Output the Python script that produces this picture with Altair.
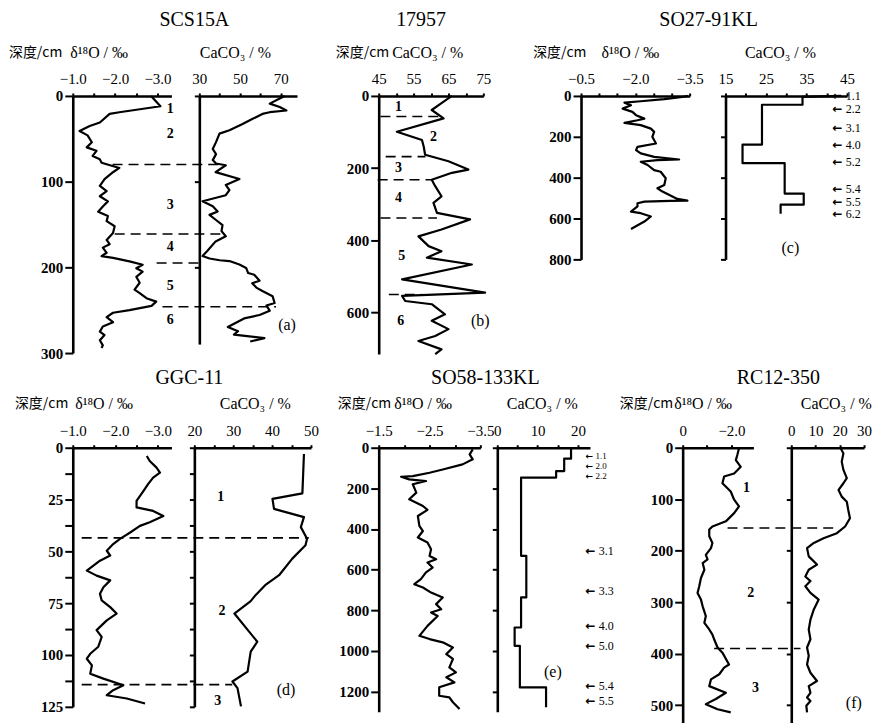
import altair as alt
import pandas as pd

SERIF = "Liberation Serif"
ARROWFONT = "DejaVu Sans"
CJK = "Noto Sans CJK SC"
M = "\u2212"
ARROW = "\u2190"

# ---------------- (a) SCS15A ----------------
a_d18o_depth = [0, 12, 19, 21, 31, 35, 41, 46, 54, 60, 64, 70, 74, 78, 84, 89, 97, 105, 111, 117, 123, 129,
                135, 140, 146, 152, 160, 168, 173, 177, 183, 187, 189, 193, 197, 201, 205, 211, 218, 226, 230,
                236, 240, 245, 250, 253, 258, 264, 269, 275, 279, 285, 291, 294]
a_d18o_value = [-2.85, -3.07, -2.1, -1.87, -1.64, -1.4, -1.16, -1.35, -1.45, -1.33, -1.56, -1.47, -1.64, -1.68,
                -2.1, -1.95, -1.75, -1.64, -1.8, -1.64, -1.83, -1.71, -1.6, -1.83, -1.8, -1.99, -1.95, -1.8,
                -1.87, -1.71, -1.8, -1.68, -1.95, -2.34, -2.65, -2.5, -2.65, -2.5, -2.58, -2.46, -2.58, -2.74,
                -2.97, -2.86, -2.34, -1.95, -1.8, -1.95, -1.71, -1.64, -1.75, -1.64, -1.71, -1.68]
a_caco3_depth = [0, 3, 9, 13, 17, 19, 21, 27, 33, 40, 44, 54, 62, 68, 75, 79, 81, 89, 97, 104, 110, 116, 123,
                 129, 135, 139, 145, 151, 158, 164, 170, 181, 187, 190, 192, 193, 197, 201, 207, 209, 216, 219,
                 224, 228, 234, 242, 245, 251, 256, 260, 265, 270, 275, 279, 283, 287]
a_caco3_value = [72, 69.5, 64.6, 69.5, 72.8, 64.6, 61, 56, 51, 44.8, 39.9, 38.2, 36.6, 38.2, 36.6, 38.2, 43, 38,
                 49.7, 43, 44.8, 43, 31.6, 36.6, 39, 35, 38.2, 41.4, 40.9, 43, 38, 34, 31.6, 35, 40, 44.8, 49.7,
                 53, 54, 57, 59.6, 56, 58, 61, 66, 67, 63, 64.6, 59.6, 52, 48, 44, 49, 47, 62, 55]
a_stage_depth = [15, 44, 127, 176, 222, 261]
a_stage_value = [-3.3, -3.3, -3.3, -3.3, -3.3, -3.3]
a_stage_label = ["1", "2", "3", "4", "5", "6"]
a_dash_depth = [80, 161, 195, 246]
a_dash_from = [-1.94, -1.99, -2.98, -3.12]
a_dash_to = [-4.46, -4.58, -4.11, -5.80]

# ---------------- (b) 17957 ----------------
b_caco3_depth = [0, 20, 39, 62, 99, 122, 140, 163, 181, 204, 213, 232, 250, 278, 296, 324, 342, 370, 389, 416,
                 430, 448, 467, 508, 545, 554, 568, 577, 605, 623, 646, 665, 679, 702, 715]
b_caco3_value = [66, 63, 60.2, 63.6, 50.2, 57.4, 57.9, 58.3, 65, 70.7, 66, 60.2, 61.2, 63, 60.7, 61.7, 71.2, 63,
                 56.4, 59.3, 63, 58.8, 71.7, 51.7, 75.5, 51.7, 52.6, 60.2, 64, 60.2, 65, 61.2, 56.4, 63, 61.2]
b_stage_depth = [30, 113, 199, 282, 444, 624]
b_stage_value = [50.7, 60.7, 50.7, 50.7, 51.6, 51.3]
b_stage_label = ["1", "2", "3", "4", "5", "6"]
b_dash_depth = [57, 168, 232, 338, 550]
b_dash_from = [45.5, 47, 44.7, 45.5, 47.9]
b_dash_to = [62.1, 58.4, 60.2, 61.7, 57.3]

# ---------------- (c) SO27-91KL ----------------
c_d18o_depth = [0, 5, 16, 26, 33, 46, 62, 78, 94, 111, 119, 132, 143, 160, 176, 200, 233, 249, 265, 281, 298,
                311, 314, 322, 338, 363, 371, 403, 436, 452, 468, 504, 512, 514, 517, 525, 541, 566, 574, 590,
                615, 651]
c_d18o_value = [-3.45, -3.3, -2.8, -2.15, -1.7, -1.88, -1.65, -1.92, -2.02, -2.25, -2.06, -1.7, -2.15, -2.43,
                -2.52, -2.47, -2.57, -2.06, -2.02, -2.15, -2.52, -3.21, -2.61, -2.15, -2.34, -2.52, -2.7, -2.84,
                -2.8, -2.61, -2.75, -3.16, -3.44, -2.97, -2.25, -2.06, -2.06, -1.88, -2.15, -2.43, -2.25, -1.88]
c_caco3_lead_depth = [0, 5]
c_caco3_lead_value = [43.5, 34]
c_caco3_step_value = [34, 24, 19.2, 29.6, 34.3, 28.6]
c_caco3_step_bounds = [5, 43, 238, 329, 478, 532, 577]
c_arrow_depth = [2, 64, 157, 238, 325, 456, 518, 580]
c_arrow_label = ["1.1", "2.2", "3.1", "4.0", "5.2", "5.4", "5.5", "6.2"]

# ---------------- (d) GGC-11 ----------------
d_d18o_depth = [4, 6.4, 9.6, 12, 14.4, 17.6, 20.9, 25.7, 28.8, 30.5, 32.9, 36, 37.7, 40.9, 44, 46.5, 49.7, 52,
                54.5, 59.3, 61.7, 64, 67.3, 70.5, 73.7, 76.9, 80, 83.3, 88, 91.3, 96, 99.4, 101.8, 105, 109,
                111.4, 114.6, 117, 119.4, 121, 123.4]
d_d18o_value = [-2.74, -2.81, -2.97, -3.05, -2.89, -2.77, -2.66, -2.5, -2.5, -2.89, -3.13, -2.81, -2.58, -2.35,
                -2.11, -1.95, -1.8, -1.88, -1.64, -1.33, -1.56, -1.88, -1.72, -1.64, -1.68, -1.88, -2.03, -1.8,
                -1.56, -1.68, -1.6, -1.41, -1.33, -1.45, -1.41, -1.72, -2.19, -1.95, -1.8, -2.27, -2.7]
d_caco3_depth = [3, 22, 24.7, 29.5, 33.5, 38.3, 43.9, 47, 53.5, 61.5, 66, 71, 74, 80, 93.6, 98.4, 108, 112.8,
                 116, 124.8]
d_caco3_value = [48.2, 47.8, 40.1, 40.5, 48.2, 47.4, 49, 48.6, 45.2, 41.8, 38.4, 35.8, 34.5, 30.3, 36.2, 34.5,
                 33.7, 29.8, 31.1, 32]
d_stage_depth = [24, 79, 122]
d_stage_value = [26.8, 27.1, 26]
d_stage_label = ["1", "2", "3"]
d_dash_depth = [43.5, 114.3]
d_dash_from = [-1.21, -1.21]
d_dash_to = [-6.55, -4.75]

# ---------------- (e) SO58-133KL ----------------
e_d18o_depth = [8, 33, 57, 82, 107, 123, 140, 143, 156, 164, 180, 221, 254, 287, 306, 336, 385, 410, 442, 467,
                500, 533, 549, 565, 590, 614, 647, 672, 688, 713, 737, 770, 795, 811, 828, 877, 926, 942, 958,
                983, 1016, 1040, 1081, 1106, 1130, 1155, 1179, 1221, 1229, 1253, 1286]
e_d18o_value = [-3.35, -3.29, -3.35, -3.15, -2.76, -2.5, -2.17, -1.94, -2.1, -2.43, -2.17, -2.24, -2.1, -2.37,
                -2.46, -2.27, -2.3, -2.37, -2.27, -2.46, -2.53, -2.5, -2.63, -2.46, -2.56, -2.43, -2.33, -2.2,
                -2.37, -2.53, -2.76, -2.63, -2.73, -2.53, -2.66, -2.46, -2.3, -2.5, -2.76, -2.96, -2.83, -2.96,
                -2.89, -3.02, -2.83, -2.99, -2.69, -2.69, -2.89, -2.96, -3.09]
e_caco3_step_value = [18.3, 16.6, 14.6, 5.9, 7.2, 5.9, 4.3, 5.6, 12.1]
e_caco3_step_bounds = [0, 54, 115, 147, 532, 737, 885, 975, 1180, 1278]
e_arrow_top_depth = [40, 90, 140]
e_arrow_top_label = ["1.1", "2.0", "2.2"]
e_arrow_depth = [508, 705, 877, 975, 1175, 1245]
e_arrow_label = ["3.1", "3.3", "4.0", "5.0", "5.4", "5.5"]

# ---------------- (f) RC12-350 ----------------
f_d18o_depth = [1, 14, 24, 37, 50, 56, 69, 85, 101, 114, 127, 143, 153, 159, 172, 185, 195, 208, 217, 224, 237,
                253, 269, 282, 295, 308, 327, 340, 353, 363, 372, 388, 398, 421, 427, 440, 450, 463, 476, 488,
                498, 508, 514]
f_d18o_value = [-2.31, -2.24, -2.18, -2.38, -2.11, -1.7, -1.63, -1.97, -2.11, -2.31, -2.11, -1.77, -1.22, -1.09,
                -1.09, -1.22, -1.16, -0.95, -1.02, -0.82, -0.89, -0.75, -0.68, -0.61, -0.75, -0.82, -0.95, -0.89,
                -1.09, -1.22, -1.29, -1.43, -1.63, -1.9, -1.7, -1.5, -1.16, -1.09, -1.77, -1.36, -0.95, -1.43,
                -1.97]
f_caco3_depth = [1, 11, 27, 43, 59, 69, 82, 95, 105, 121, 137, 153, 166, 176, 185, 195, 211, 227, 237, 250, 259,
                 269, 282, 295, 314, 334, 353, 372, 388, 404, 421, 437, 453, 463, 476, 485, 492, 501, 514]
f_caco3_value = [20.4, 21.5, 20.8, 21.5, 22.9, 21.5, 19.5, 20.8, 22.9, 23.5, 24.2, 22.2, 18.8, 13.3, 9.3, 6.5,
                 7.2, 10.6, 7.2, 5.8, 7.9, 5.8, 7.9, 11.3, 9.3, 7.9, 7.2, 7.9, 6.5, 7.2, 6.5, 7.9, 10.6, 7.2, 7.9,
                 6.5, 7.9, 6.2, 6.5]
f_stage_depth = [79, 282, 466]
f_stage_value = [-2.62, -2.79, -2.99]
f_stage_label = ["1", "2", "3"]
f_dash_depth = [156, 390]
f_dash_from = [-1.84, -1.29]
f_dash_to = [-6.33, -4.83]

D18O_TITLE = "\u03b4\u00b9\u2078O / \u2030"
CACO3_TITLE = "CaCO\u2083 / %"
DEPTH_TITLE = "\u6df1\u5ea6/cm"


def label_expr(values, texts):
    expr = "''"
    for v, t in reversed(list(zip(values, texts))):
        expr = "datum.value == %s ? '%s' : %s" % (repr(float(v)), t, expr)
    return expr


def step_points(vals, bounds):
    pv, pd_ = [], []
    for k, v in enumerate(vals):
        pv += [v, v]
        pd_ += [bounds[k], bounds[k + 1]]
    return pv, pd_


def subplot(width, height, xdom, ymax, xticks, xtexts, xtitle, xtx, yticks, ytexts=None, ytx=0,
            curve=None, dashes=None, stages=None, letter=None, arrows=None, title=None, tdx=0, toff=12):
    xs = alt.Scale(domain=xdom, nice=False, zero=False)
    ys = alt.Scale(domain=[0, ymax], reverse=True, nice=False, zero=False)
    xaxis = alt.Axis(orient="top", values=xticks, labelExpr=label_expr(xticks, xtexts),
                     labelFont=SERIF, labelFontSize=15, labelPadding=6, labelFlush=False,
                     labelOverlap=False, tickSize=3, title=xtitle, titleFont=SERIF, titleFontSize=16,
                     titleFontWeight="normal", titleX=xtx, titleY=-44, titleAlign="left",
                     titleBaseline="middle", titleAngle=0)
    if ytexts is not None:
        yaxis = alt.Axis(orient="left", values=yticks, labelExpr=label_expr(yticks, ytexts),
                         labelFont=SERIF, labelFontSize=15, labelFontWeight="bold", labelPadding=2,
                         tickSize=8, labelOverlap=False, title=DEPTH_TITLE, titleFont=CJK,
                         titleFontSize=14, titleFontWeight="normal", titleAngle=0, titleX=ytx,
                         titleY=-44, titleAlign="right", titleBaseline="middle")
    else:
        yaxis = alt.Axis(orient="left", values=yticks, labels=False, tickSize=5, title="")
    X = lambda f="v": alt.X(f + ":Q", scale=xs, axis=xaxis)
    Y = lambda: alt.Y("d:Q", scale=ys, axis=yaxis)

    cv, cd = curve
    layers = [alt.Chart(pd.DataFrame({"v": cv, "d": cd, "i": list(range(len(cv)))}))
              .mark_line(color="black", strokeWidth=2.2, strokeJoin="round")
              .encode(x=X(), y=Y(), order="i:Q")]
    if dashes:
        dd, d1, d2 = dashes
        layers.append(alt.Chart(pd.DataFrame({"d": dd, "v": d1, "v2": d2}))
                      .mark_rule(color="black", strokeWidth=1.6, strokeDash=[10, 6])
                      .encode(x=X(), x2="v2:Q", y=Y()))
    if stages:
        sv, sd, sl = stages
        layers.append(alt.Chart(pd.DataFrame({"v": sv, "d": sd, "t": sl}))
                      .mark_text(font=SERIF, fontSize=14, fontWeight="bold", color="black")
                      .encode(x=X(), y=Y(), text="t:N"))
    if letter:
        lv, ld, lt = letter
        layers.append(alt.Chart(pd.DataFrame({"v": [lv], "d": [ld], "t": [lt]}))
                      .mark_text(font=SERIF, fontSize=16, color="black")
                      .encode(x=X(), y=Y(), text="t:N"))
    if arrows:
        for (av, nv, ad, al, fs, afs) in arrows:
            layers.append(alt.Chart(pd.DataFrame({"v": [av] * len(ad), "d": ad, "t": [ARROW] * len(ad)}))
                          .mark_text(font=ARROWFONT, fontSize=afs, fontWeight="bold", color="black",
                                     align="left")
                          .encode(x=X(), y=Y(), text="t:N"))
            layers.append(alt.Chart(pd.DataFrame({"v": [nv] * len(ad), "d": ad, "t": al}))
                          .mark_text(font=SERIF, fontSize=fs, color="black", align="left")
                          .encode(x=X(), y=Y(), text="t:N"))
    ch = alt.layer(*layers).properties(width=width, height=height)
    if title:
        ch = ch.properties(title=alt.TitleParams(text=title, anchor="middle", frame="group", dx=tdx,
                                                 offset=toff, font=SERIF, fontSize=20,
                                                 fontWeight="normal", color="black"))
    return ch


def spacer(w):
    return (alt.Chart(pd.DataFrame({"z": [0]})).mark_point(opacity=0)
            .encode(x=alt.X("z:Q", axis=None), y=alt.Y("z:Q", axis=None))
            .properties(width=w, height=1))


c_cv, c_cd = step_points(c_caco3_step_value, c_caco3_step_bounds)
e_cv, e_cd = step_points(e_caco3_step_value, e_caco3_step_bounds)

aD = subplot(99, 258, [-1.0, -3.33], 300, [-1, -1.5, -2, -2.5, -3], [M + "1.0", "", M + "2.0", "", M + "3.0"],
             D18O_TITLE, -3, [0, 100, 200, 300], ["0", "100", "200", "300"], -11,
             curve=(a_d18o_value, a_d18o_depth), dashes=(a_dash_depth, a_dash_from, a_dash_to),
             stages=(a_stage_value, a_stage_depth, a_stage_label), title="SCS15A", tdx=72.5, toff=14)
aC = subplot(98, 249, [30, 78], 290, [30, 40, 50, 60, 70], ["30", "", "50", "", "70"], CACO3_TITLE, 0,
             [0, 100, 200], curve=(a_caco3_value, a_caco3_depth), letter=(73.1, 268, "(a)"))
bC = subplot(105, 259, [45, 75], 715, [45, 50, 55, 60, 65, 70, 75], ["45", "", "55", "", "65", "", "75"],
             CACO3_TITLE, 13, [0, 200, 400, 600], ["0", "200", "400", "600"], 10,
             curve=(b_caco3_value, b_caco3_depth), dashes=(b_dash_depth, b_dash_from, b_dash_to),
             stages=(b_stage_value, b_stage_depth, b_stage_label), letter=(74.1, 624, "(b)"),
             title="17957", tdx=-10, toff=14)
cD = subplot(109, 164, [-0.5, -3.5], 800, [-0.5, -1, -1.5, -2, -2.5, -3, -3.5],
             [M + "0.5", "", "", M + "2.0", "", "", M + "3.5"], D18O_TITLE, 20,
             [0, 200, 400, 600, 800], ["0", "200", "400", "600", "800"], 5,
             curve=(c_d18o_value, c_d18o_depth), title="SO27-91KL", tdx=73.5, toff=14)
cC = subplot(122, 164, [15, 45], 800, [15, 20, 25, 30, 35, 40, 45], ["15", "", "25", "", "35", "", "45"],
             CACO3_TITLE, 19, [0, 200, 400, 600, 800],
             curve=(c_caco3_lead_value + c_cv, c_caco3_lead_depth + c_cd), letter=(31, 746, "(c)"),
             arrows=[(41.4, 44.7, c_arrow_depth, c_arrow_label, 12, 12)])

dD = subplot(99, 260, [-1.0, -3.32], 125, [-1, -1.5, -2, -2.5, -3], [M + "1.0", "", M + "2.0", "", M + "3.0"],
             D18O_TITLE, 2, [0, 12.5, 25, 37.5, 50, 62.5, 75, 87.5, 100, 112.5, 125],
             ["0", "", "25", "", "50", "", "75", "", "100", "", "125"], -5,
             curve=(d_d18o_value, d_d18o_depth), dashes=(d_dash_depth, d_dash_from, d_dash_to),
             title="GGC-11", tdx=67.5, toff=8)
dC = subplot(117, 260, [20, 50], 125, [20, 25, 30, 35, 40, 45, 50], ["20", "", "30", "", "40", "", "50"],
             CACO3_TITLE, 25, [0, 12.5, 25, 37.5, 50, 62.5, 75, 87.5, 100, 112.5, 125],
             curve=(d_caco3_value, d_caco3_depth), stages=(d_stage_value, d_stage_depth, d_stage_label),
             letter=(43.6, 117, "(d)"))
eD = subplot(102, 265, [-1.5, -3.5], 1300, [-1.5, -2, -2.5, -3, -3.5], [M + "1.5", "", M + "2.5", "", M + "3.5"],
             D18O_TITLE, 15, [0, 200, 400, 600, 800, 1000, 1200],
             ["0", "200", "400", "600", "800", "1000", "1200"], 12,
             curve=(e_d18o_value, e_d18o_depth), title="SO58-133KL", tdx=56, toff=8)
eC = subplot(93, 265, [0, 23], 1300, [0, 5, 10, 15, 20], ["0", "", "10", "", "20"], CACO3_TITLE, 9,
             [0, 200, 400, 600, 800, 1000, 1200], curve=(e_cv, e_cd), letter=(13.8, 1106, "(e)"),
             arrows=[(21.9, 25.2, e_arrow_depth, e_arrow_label, 12, 12),
                     (21.9, 24.4, e_arrow_top_depth, e_arrow_top_label, 9, 9)])
fD = subplot(71, 279, [0, -2.9], 540, [0, -1, -2], ["0", "", M + "2.0"], D18O_TITLE, -9,
             [0, 100, 200, 300, 400, 500], ["0", "100", "200", "300", "400", "500"], -10,
             curve=(f_d18o_value, f_d18o_depth), dashes=(f_dash_depth, f_dash_from, f_dash_to),
             stages=(f_stage_value, f_stage_depth, f_stage_label), title="RC12-350", tdx=60.5, toff=8)
fC = subplot(73, 279, [0, 30], 540, [0, 10, 20, 30], ["0", "10", "20", "30"], CACO3_TITLE, 9,
             [0, 100, 200, 300, 400, 500], curve=(f_caco3_value, f_caco3_depth), letter=(25.8, 495, "(f)"))

row1 = alt.hconcat(aD, spacer(28), aC, spacer(82), bC, spacer(98), cD, spacer(36), cC,
                   spacing=0, bounds="flush")
row2 = alt.hconcat(dD, spacer(23), dC, spacer(68), eD, spacer(17), eC, spacer(93), fD, spacer(38), fC,
                   spacing=0, bounds="flush")

chart = alt.vconcat(row1, row2, spacing=353, bounds="flush").properties(
    background="white", padding={"left": 0, "top": 1, "right": 0, "bottom": 0}
).configure_view(stroke=None).configure_axis(
    domainColor="black", domainWidth=2.6, tickColor="black", tickWidth=2, labelColor="black",
    titleColor="black", grid=False
)

chart.save("out.html", embed_options={"renderer": "svg", "actions": False})
